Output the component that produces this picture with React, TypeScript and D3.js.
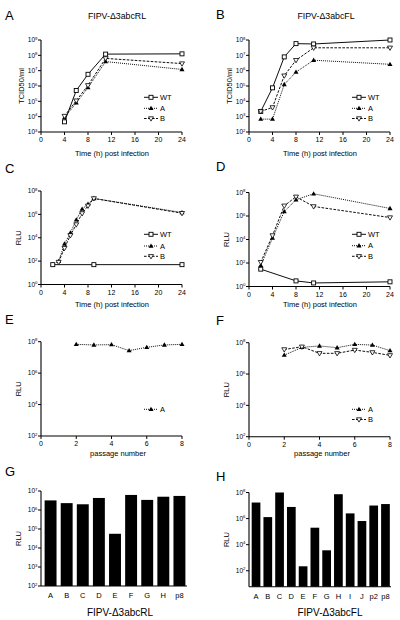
import React from 'react';
import * as d3 from 'd3';

// ---------- data ----------
const hourTicks = [0, 4, 8, 12, 16, 20, 24];
const passageTicks = [0, 2, 4, 6, 8];

// Panel A (TCID50/ml, FIPV-Δ3abcRL)
const hoursA = [4, 6, 8, 11, 24];
const aWT = [4.6e3, 5.1e5, 5.8e6, 1.2e8, 1.25e8];
const aA = [8.7e3, 7.9e4, 7.9e5, 3.9e7, 1.2e7];
const aB = [1.1e4, 1.1e5, 1.1e6, 6.3e7, 2.9e7];

// Panel B (TCID50/ml, FIPV-Δ3abcFL)
const hoursB = [2, 4, 6, 8, 11, 24];
const bWT = [2.2e3, 7.6e4, 7.9e6, 5.8e7, 5.5e7, 1.0e8];
const bA = [6.9e2, 6.9e2, 1.26e5, 8.1e5, 4.8e6, 2.6e6];
const bB = [2.2e3, 4.0e3, 4.7e5, 4.8e6, 3.1e7, 3.1e7];

// Panel C (RLU)
const hoursCWT = [2, 9, 24];
const cWT = [50, 50, 50];
const hoursC = [3, 4, 5, 6, 7, 8, 9, 24];
const cA = [95, 3.0e3, 2.6e4, 3.4e5, 2.8e6, 7.6e6, 2.3e7, 1.45e6];
const cB = [83, 1.3e3, 1.6e4, 1.35e5, 1.2e6, 5.4e6, 2.3e7, 1.26e6];

// Panel D (RLU)
const hoursDWT = [2, 8, 11, 24];
const dWT = [30, 3.0, 2.0, 2.5];
const hoursD = [2, 4, 6, 8, 11, 24];
const dA = [62, 1.3e4, 2.4e6, 2.4e7, 7.8e7, 4.4e6];
const dB = [117, 2.2e4, 7.4e6, 4.3e7, 6.5e6, 7.4e5];

// Panels E, F (RLU per passage)
const passages = [2, 3, 4, 5, 6, 7, 8];
const eA = [6.8e7, 6.2e7, 6.5e7, 2.7e7, 4.4e7, 6.2e7, 6.8e7];
const fA = [1.6e7, 5.0e7, 6.2e7, 4.8e7, 7.8e7, 7.1e7, 3.1e7];
const fB = [3.7e7, 5.5e7, 2.1e7, 2.1e7, 3.4e7, 2.4e7, 1.55e7];

// Panels G, H (bars)
const gCats = ['A', 'B', 'C', 'D', 'E', 'F', 'G', 'H', 'p8'];
const gVals = [3.2e6, 2.3e6, 2.0e6, 4.3e6, 5.6e4, 6.2e6, 3.4e6, 5.0e6, 5.5e6];
const hCats = ['A', 'B', 'C', 'D', 'E', 'F', 'G', 'H', 'I', 'J', 'p2', 'p8'];
const hVals = [1.7e7, 1.3e6, 1.0e8, 7.8e6, 2.2e2, 2.0e5, 3.7e3, 7.4e7, 2.5e6, 6.5e5, 1.0e7, 1.3e7];

// axis domains / tick exponents
const yDomA = [1e3, 1e9];
const yTicksA = [3, 4, 5, 6, 7, 8, 9];
const yDomB = [1e2, 1e8];
const yTicksB = [2, 3, 4, 5, 6, 7, 8];
const yDomCD = [1, 1e8];
const yTicksCD = [0, 2, 4, 6, 8];
const yDomEF = [1e2, 1e8];
const yTicksEF = [2, 4, 6, 8];
const yDomG = [1e2, 1e7];
const yTicksG = [2, 3, 4, 5, 6, 7];
const yDomH = [6, 1e8];
const yTicksH = [2, 4, 6, 8];

const FONT = '"Liberation Sans", Arial, Helvetica, sans-serif';

type Kind = 'WT' | 'A' | 'B';
type Series = { kind: Kind; x: number[]; y: number[] };

const dashOf: Record<Kind, string | undefined> = {
  WT: undefined,
  A: '1,1',
  B: '2.6,1.4',
};

function Marker({ kind, x, y }: { kind: Kind; x: number; y: number }) {
  if (kind === 'WT')
    return <rect x={x - 2} y={y - 2} width={4} height={4} fill="white" stroke="black" strokeWidth={0.9} />;
  if (kind === 'A')
    return <path d={`M${x},${y - 2.6}L${x + 2.5},${y + 1.7}L${x - 2.5},${y + 1.7}Z`} fill="black" />;
  return (
    <path d={`M${x},${y + 2.6}L${x + 2.5},${y - 1.7}L${x - 2.5},${y - 1.7}Z`} fill="white" stroke="black" strokeWidth={0.8} />
  );
}

function YLogAxis({ x, scale, ticks, bottom, top }: { x: number; scale: any; ticks: number[]; bottom: number; top: number }) {
  return (
    <g>
      <line x1={x} x2={x} y1={bottom} y2={top} stroke="black" strokeWidth={1.1} />
      {ticks.map((e) => {
        const yy = scale(Math.pow(10, e));
        return (
          <g key={e}>
            <line x1={x - 3} x2={x} y1={yy} y2={yy} stroke="black" strokeWidth={1} />
            <text x={x - 3.6} y={yy + 2.3} fontSize={6.5} textAnchor="end" fontFamily={FONT} fill="black">
              10<tspan dy={-2.8} fontSize={4.3}>{e}</tspan>
            </text>
          </g>
        );
      })}
    </g>
  );
}

function LinePanel(props: {
  x0: number; x1: number; yb: number; yt: number;
  xDom: number[]; xTicks: number[]; yDom: number[]; yTicks: number[];
  series: Series[]; legendX: number; legendY: number[]; legendKinds: Kind[];
  yTitle: string; yTitleX: number;
}) {
  const { x0, x1, yb, yt, xDom, xTicks, yDom, yTicks, series, legendX, legendY, legendKinds, yTitle, yTitleX } = props;
  const xs = d3.scaleLinear().domain(xDom).range([x0, x1]);
  const ys = d3.scaleLog().domain(yDom).range([yb, yt]);
  const line = d3.line<[number, number]>().x((d) => xs(d[0])).y((d) => ys(d[1]));
  return (
    <g>
      <YLogAxis x={x0} scale={ys} ticks={yTicks} bottom={yb} top={yt} />
      <line x1={x0} x2={x1} y1={yb} y2={yb} stroke="black" strokeWidth={1.1} />
      {xTicks.map((t) => (
        <g key={t}>
          <line x1={xs(t)} x2={xs(t)} y1={yb} y2={yb + 3} stroke="black" strokeWidth={1} />
          <text x={xs(t)} y={yb + 10} fontSize={7} textAnchor="middle" fontFamily={FONT} fill="black">{t}</text>
        </g>
      ))}
      <text
        transform={`translate(${yTitleX},${(yb + yt) / 2}) rotate(-90)`}
        fontSize={7.5}
        textAnchor="middle"
        fontFamily={FONT}
        fill="black"
      >
        {yTitle}
      </text>
      {series.map((s, i) => (
        <path
          key={'l' + i}
          d={line(s.x.map((v, j) => [v, s.y[j]] as [number, number])) || ''}
          fill="none"
          stroke="black"
          strokeWidth={0.95}
          strokeDasharray={dashOf[s.kind]}
        />
      ))}
      {series.map((s, i) => (
        <g key={'m' + i}>
          {s.x.map((v, j) => (
            <Marker key={j} kind={s.kind} x={xs(v)} y={ys(s.y[j])} />
          ))}
        </g>
      ))}
      {legendKinds.map((k, i) => (
        <g key={'lg' + k}>
          <line x1={legendX} x2={legendX + 14} y1={legendY[i]} y2={legendY[i]} stroke="black" strokeWidth={0.95} strokeDasharray={dashOf[k]} />
          <Marker kind={k} x={legendX + 7} y={legendY[i]} />
          <text x={legendX + 16} y={legendY[i] + 2.7} fontSize={7.5} fontFamily={FONT} fill="black">{k}</text>
        </g>
      ))}
    </g>
  );
}

function BarPanel(props: {
  x0: number; x1: number; bandStart: number; yb: number; yt: number;
  cats: string[]; vals: number[]; yDom: number[]; yTicks: number[]; yTitleX: number;
}) {
  const { x0, x1, bandStart, yb, yt, cats, vals, yDom, yTicks, yTitleX } = props;
  const xs = d3.scaleBand<string>().domain(cats).range([bandStart, x1]).paddingInner(0.26).paddingOuter(0.1);
  const ys = d3.scaleLog().domain(yDom).range([yb, yt]);
  return (
    <g>
      {cats.map((c, i) => (
        <rect key={c} x={xs(c)} width={xs.bandwidth()} y={ys(vals[i])} height={yb - ys(vals[i])} fill="black" />
      ))}
      <YLogAxis x={x0} scale={ys} ticks={yTicks} bottom={yb} top={yt} />
      <line x1={x0} x2={x1} y1={yb} y2={yb} stroke="black" strokeWidth={1.1} />
      {cats.map((c) => (
        <text key={c} x={(xs(c) as number) + xs.bandwidth() / 2} y={yb + 12} fontSize={7.5} textAnchor="middle" fontFamily={FONT} fill="black">
          {c}
        </text>
      ))}
      <text
        transform={`translate(${yTitleX},${(yb + yt) / 2}) rotate(-90)`}
        fontSize={7.5}
        textAnchor="middle"
        fontFamily={FONT}
        fill="black"
      >
        RLU
      </text>
    </g>
  );
}

function Letter({ x, y, t }: { x: number; y: number; t: string }) {
  return (
    <text x={x} y={y} fontSize={13} fontFamily={FONT} fill="black">
      {t}
    </text>
  );
}

export default function App() {
  const LX0 = 41, LX1 = 182, RX0 = 249, RX1 = 390;
  const legL = 144, legR = 352;
  return (
    <svg width={400} height={620} style={{ position: 'fixed', left: 0, top: 0, background: 'white' }}>
      <rect width={400} height={620} fill="white" />
      {/* Row 1 */}
      <Letter x={5} y={20} t="A" />
      <Letter x={216} y={19} t="B" />
      <text x={117} y={18.5} fontSize={8.8} textAnchor="middle" fontFamily={FONT} fill="black">FIPV-Δ3abcRL</text>
      <text x={326} y={18.5} fontSize={8.8} textAnchor="middle" fontFamily={FONT} fill="black">FIPV-Δ3abcFL</text>
      <LinePanel
        x0={LX0} x1={LX1} yb={132} yt={40} xDom={[0, 24]} xTicks={hourTicks} yDom={yDomA} yTicks={yTicksA}
        series={[{ kind: 'WT', x: hoursA, y: aWT }, { kind: 'A', x: hoursA, y: aA }, { kind: 'B', x: hoursA, y: aB }]}
        legendX={legL} legendY={[97.3, 108.3, 118.5]} legendKinds={['WT', 'A', 'B']} yTitle="TCID50/ml" yTitleX={24}
      />
      <LinePanel
        x0={RX0} x1={RX1} yb={132} yt={40} xDom={[0, 24]} xTicks={hourTicks} yDom={yDomB} yTicks={yTicksB}
        series={[{ kind: 'WT', x: hoursB, y: bWT }, { kind: 'A', x: hoursB, y: bA }, { kind: 'B', x: hoursB, y: bB }]}
        legendX={legR} legendY={[97.3, 108.3, 118.5]} legendKinds={['WT', 'A', 'B']} yTitle="TCID50/ml" yTitleX={232}
      />
      <text x={112} y={156} fontSize={7.5} textAnchor="middle" fontFamily={FONT} fill="black">Time (h) post infection</text>
      <text x={320} y={156} fontSize={7.5} textAnchor="middle" fontFamily={FONT} fill="black">Time (h) post infection</text>

      {/* Row 2 */}
      <Letter x={5} y={173} t="C" />
      <Letter x={216} y={171} t="D" />
      <LinePanel
        x0={LX0} x1={LX1} yb={284.5} yt={191} xDom={[0, 24]} xTicks={hourTicks} yDom={yDomCD} yTicks={yTicksCD}
        series={[{ kind: 'WT', x: hoursCWT, y: cWT }, { kind: 'A', x: hoursC, y: cA }, { kind: 'B', x: hoursC, y: cB }]}
        legendX={legL} legendY={[234.3, 246, 256.3]} legendKinds={['WT', 'A', 'B']} yTitle="RLU" yTitleX={21}
      />
      <LinePanel
        x0={RX0} x1={RX1} yb={286.5} yt={192.5} xDom={[0, 24]} xTicks={hourTicks} yDom={yDomCD} yTicks={yTicksCD}
        series={[{ kind: 'WT', x: hoursDWT, y: dWT }, { kind: 'A', x: hoursD, y: dA }, { kind: 'B', x: hoursD, y: dB }]}
        legendX={legR} legendY={[234.3, 245.7, 256.3]} legendKinds={['WT', 'A', 'B']} yTitle="RLU" yTitleX={229}
      />
      <text x={112} y={307} fontSize={7.5} textAnchor="middle" fontFamily={FONT} fill="black">Time (h) post infection</text>
      <text x={320} y={307} fontSize={7.5} textAnchor="middle" fontFamily={FONT} fill="black">Time (h) post infection</text>

      {/* Row 3 */}
      <Letter x={5} y={324} t="E" />
      <Letter x={216} y={325} t="F" />
      <LinePanel
        x0={LX0} x1={LX1} yb={436} yt={341.7} xDom={[0, 8]} xTicks={passageTicks} yDom={yDomEF} yTicks={yTicksEF}
        series={[{ kind: 'A', x: passages, y: eA }]}
        legendX={legL} legendY={[409.3]} legendKinds={['A']} yTitle="RLU" yTitleX={21}
      />
      <LinePanel
        x0={RX0} x1={RX1} yb={436.7} yt={342.7} xDom={[0, 8]} xTicks={passageTicks} yDom={yDomEF} yTicks={yTicksEF}
        series={[{ kind: 'A', x: passages, y: fA }, { kind: 'B', x: passages, y: fB }]}
        legendX={legR} legendY={[409.3, 419.5]} legendKinds={['A', 'B']} yTitle="RLU" yTitleX={229}
      />
      <text x={118} y={456} fontSize={7.5} textAnchor="middle" fontFamily={FONT} fill="black">passage number</text>
      <text x={322} y={456} fontSize={7.5} textAnchor="middle" fontFamily={FONT} fill="black">passage number</text>

      {/* Row 4 */}
      <Letter x={5} y={476} t="G" />
      <Letter x={216} y={481} t="H" />
      <BarPanel
        x0={LX0} x1={187} bandStart={43} yb={586} yt={491} cats={gCats} vals={gVals} yDom={yDomG} yTicks={yTicksG} yTitleX={21}
      />
      <BarPanel
        x0={RX0} x1={391} bandStart={250.5} yb={586.7} yt={492.5} cats={hCats} vals={hVals} yDom={yDomH} yTicks={yTicksH} yTitleX={229}
      />
      <text x={120} y={616} fontSize={10} textAnchor="middle" fontFamily={FONT} fill="black">FIPV-Δ3abcRL</text>
      <text x={330} y={616} fontSize={10} textAnchor="middle" fontFamily={FONT} fill="black">FIPV-Δ3abcFL</text>
    </svg>
  );
}
